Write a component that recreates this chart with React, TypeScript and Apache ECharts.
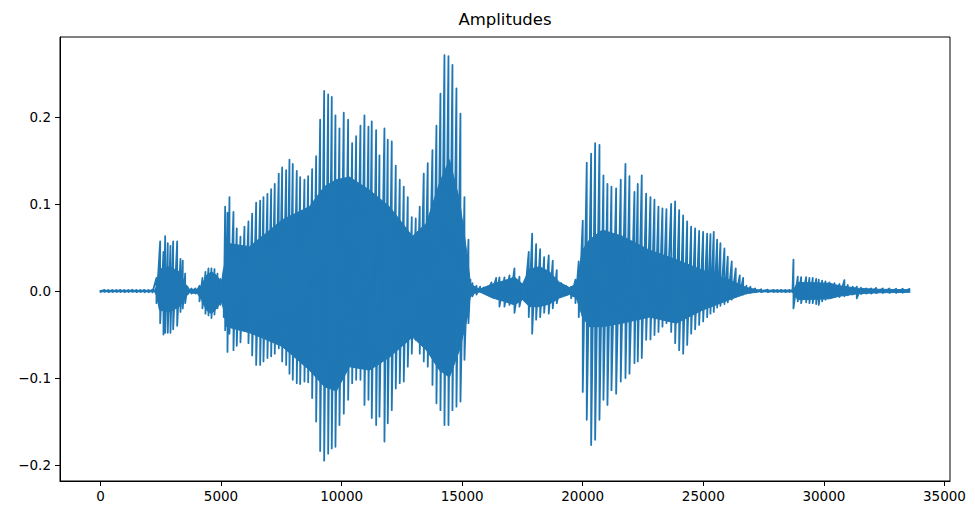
import React, { useEffect, useRef } from "react";
import * as echarts from "echarts";

// Waveform envelope: for each sample position the local maximum and minimum
// amplitude of the signal.
const sampleIdx = [
  0, 166, 332, 498, 664, 829, 995, 1161, 1327, 1493, 1659, 1825, 1991, 2156,
  2322, 2476, 2613, 2683, 2791, 2903, 3015, 3181, 3318, 3413, 3513, 3608, 3774, 3940,
  4106, 4230, 4354, 4479, 4603, 4728, 4852, 4976,
  5113, 5171, 5267,
  5350, 5516, 5652, 5806, 5972, 6138, 6291, 6457, 6623, 6760, 6925, 7079, 7228, 7394,
  7535, 7701, 7838, 7975, 8141, 8282, 8460, 8613, 8779, 8945, 9111, 9277, 9443, 9592,
  9745, 9911, 10090, 10272, 10438, 10604, 10782,
  10948, 11114, 11251, 11433, 11570, 11777, 11914, 12080, 12246, 12412, 12578, 12744,
  12910, 13075, 13241, 13407, 13573, 13768, 13934, 14100, 14266, 14432, 14597, 14763,
  14929, 15095, 15261, 15344,
  15427, 15593, 15746, 15895, 16061, 16215, 16410,
  16547, 16754, 16961, 17169, 17376, 17583, 17762, 17903, 18068, 18234, 18400, 18591,
  18757, 18923, 19105, 19313, 19520, 19698, 19835, 20001, 20167, 20349, 20515, 20694,
  20859, 21025, 21191, 21386, 21577, 21772, 21938,
  22145, 22282, 22448, 22630, 22809, 22975, 23140, 23306, 23472, 23667, 23833, 23999,
  24165, 24331, 24496, 24662, 24828, 24994, 25160, 25297, 25434, 25574, 25711, 25877,
  26014, 26180, 26346, 26512, 26653, 26790, 26956, 27150, 27399, 27673, 27922,
  28075, 28241, 28407, 28572, 28698, 28739,
  28917, 29058, 29265, 29402, 29539, 29681, 29788, 29929, 30066, 30232, 30439, 30646,
  30853, 30991, 31198, 31364, 31546, 31754, 31961, 32169, 32442, 32720, 32998, 33272,
  33549,
];

const upper = [
  0.0012, 0.0013, 0.0011, 0.0012, 0.0012, 0.0013, 0.0011, 0.0012, 0.0014, 0.0012, 0.0011, 0.0013, 0.0012, 0.0015,
  0.015, 0.057, 0.045, 0.063, 0.055, 0.052, 0.057, 0.057, 0.037, 0.035, 0.02, 0.005, 0.003, 0.003,
  0.006, 0.015, 0.022, 0.026, 0.026, 0.025, 0.02, 0.014,
  0.025, 0.097, 0.09,
  0.108, 0.091, 0.072, 0.0625, 0.074, 0.08, 0.089, 0.1015, 0.104, 0.108, 0.1115, 0.117, 0.123, 0.135,
  0.142, 0.139, 0.151, 0.146, 0.138, 0.131, 0.128, 0.132, 0.14, 0.155, 0.197, 0.23, 0.226, 0.223,
  0.202, 0.187, 0.205, 0.197, 0.17, 0.178, 0.19,
  0.202, 0.189, 0.195, 0.185, 0.156, 0.187, 0.174, 0.172, 0.144, 0.128, 0.12, 0.108,
  0.085, 0.0835, 0.097, 0.135, 0.147, 0.162, 0.19, 0.227, 0.271, 0.27, 0.26, 0.233,
  0.204, 0.108, 0.059, 0.013,
  0.009, 0.006, 0.005, 0.004, 0.005, 0.01, 0.015,
  0.0157, 0.0157, 0.018, 0.026, 0.0165, 0.009, 0.045, 0.066, 0.054, 0.048, 0.039, 0.041,
  0.035, 0.024, 0.009, 0.006, 0.005, 0.013, 0.034, 0.081, 0.1475, 0.158, 0.17, 0.168,
  0.133, 0.123, 0.12, 0.118, 0.128, 0.146, 0.132,
  0.114, 0.123, 0.133, 0.112, 0.108, 0.105, 0.097, 0.095, 0.094, 0.1, 0.103, 0.093,
  0.087, 0.08, 0.074, 0.072, 0.069, 0.068, 0.066, 0.0655, 0.068, 0.059, 0.055, 0.049,
  0.0395, 0.034, 0.026, 0.018, 0.015, 0.006, 0.005, 0.003, 0.002, 0.0015, 0.0013,
  0.0012, 0.0013, 0.0012, 0.0012, 0.0013, 0.036,
  0.0165, 0.016, 0.016, 0.015, 0.015, 0.014, 0.013, 0.012, 0.011, 0.01, 0.009, 0.008,
  0.0126, 0.007, 0.005, 0.005, 0.0038, 0.003, 0.003, 0.0035, 0.003, 0.003, 0.0027, 0.0027,
  0.0025,
];

const lower = [
  -0.0012, -0.0011, -0.0013, -0.0012, -0.0011, -0.0012, -0.0013, -0.0012, -0.0011, -0.0013, -0.0012, -0.0014, -0.0015, -0.0016,
  -0.014, -0.037, -0.05, -0.048, -0.048, -0.048, -0.044, -0.04, -0.024, -0.02, -0.014, -0.004, -0.003, -0.003,
  -0.012, -0.02, -0.026, -0.028, -0.031, -0.027, -0.02, -0.016,
  -0.03, -0.045, -0.07,
  -0.049, -0.068, -0.063, -0.059, -0.043, -0.06, -0.074, -0.085, -0.085, -0.081, -0.077, -0.075, -0.072, -0.066,
  -0.081, -0.085, -0.095, -0.102, -0.106, -0.107, -0.104, -0.105, -0.123, -0.15, -0.184, -0.195, -0.187, -0.181,
  -0.179, -0.154, -0.141, -0.125, -0.106, -0.102, -0.102,
  -0.131, -0.125, -0.146, -0.154, -0.1445, -0.173, -0.152, -0.137, -0.112, -0.106, -0.104, -0.087,
  -0.072, -0.056, -0.072, -0.081, -0.087, -0.108, -0.129, -0.137, -0.154, -0.154, -0.137, -0.133,
  -0.127, -0.079, -0.037, -0.0065,
  -0.006, -0.004, -0.001, -0.001, -0.001, -0.004, -0.006,
  -0.018, -0.018, -0.016, -0.025, -0.018, -0.01, -0.03, -0.049, -0.033, -0.03, -0.025, -0.026,
  -0.02, -0.014, -0.0065, -0.0046, -0.0084, -0.014, -0.03, -0.116, -0.148, -0.177, -0.171, -0.148,
  -0.125, -0.131, -0.114, -0.118, -0.104, -0.1, -0.095,
  -0.083, -0.081, -0.077, -0.056, -0.0556, -0.0506, -0.047, -0.041, -0.037, -0.047, -0.06, -0.068,
  -0.072, -0.062, -0.049, -0.044, -0.039, -0.035, -0.03, -0.026, -0.024, -0.019, -0.017, -0.015,
  -0.013, -0.01, -0.007, -0.005, -0.004, -0.003, -0.002, -0.0015, -0.0013, -0.0012, -0.0012,
  -0.0012, -0.0011, -0.0013, -0.0012, -0.0012, -0.02,
  -0.012, -0.014, -0.013, -0.014, -0.014, -0.015, -0.016, -0.012, -0.01, -0.008, -0.007, -0.007,
  -0.006, -0.005, -0.004, -0.0084, -0.0035, -0.003, -0.003, -0.0025, -0.0022, -0.0022, -0.0022, -0.002,
  -0.002,
];

// Dense body of the waveform: the band that the oscillation fills solidly.
const coreIdx = [
  0, 2239, 2322, 2447, 2861, 3276, 3525, 3691, 4023, 4189, 4396, 4603, 4811, 5018,
  5142, 5225, 6179, 6801, 7548, 8667, 9289, 9787, 10326, 11155, 11985, 12939, 13519,
  14058, 14473, 14888, 15219, 15344, 15718,
  16256, 16754, 17169, 17501, 17791, 18206, 18620, 19035, 19449, 19740, 19989, 20279,
  20818, 21647, 22767, 23887, 24965, 26085, 26790, 27329,
  28739, 28905, 30232, 30646, 31475, 32305, 33549,
];

const coreUpper = [
  0.0008, 0.0008, 0.005, 0.025, 0.028, 0.022, 0.008, 0.002, 0.002, 0.006, 0.018, 0.022, 0.018, 0.01,
  0.03, 0.055, 0.051, 0.065, 0.082, 0.097, 0.12, 0.128, 0.131, 0.116, 0.097, 0.063, 0.078,
  0.124, 0.151, 0.105, 0.039, 0.008, 0.002,
  0.008, 0.012, 0.016, 0.008, 0.025, 0.028, 0.022, 0.01, 0.004, 0.008, 0.047, 0.059,
  0.07, 0.063, 0.047, 0.036, 0.024, 0.0126, 0.004, 0.001,
  0.001, 0.01, 0.009, 0.006, 0.003, 0.002, 0.0015,
];

const coreLower = [
  -0.0008, -0.0008, -0.005, -0.022, -0.024, -0.018, -0.006, -0.002, -0.003, -0.01, -0.022, -0.026, -0.02, -0.012,
  -0.025, -0.041, -0.048, -0.055, -0.064, -0.091, -0.11, -0.115, -0.087, -0.091, -0.076, -0.053, -0.068,
  -0.091, -0.099, -0.068, -0.03, -0.004, -0.001,
  -0.008, -0.012, -0.016, -0.01, -0.018, -0.018, -0.015, -0.008, -0.004, -0.008, -0.03, -0.041,
  -0.041, -0.037, -0.03, -0.037, -0.022, -0.01, -0.003, -0.001,
  -0.001, -0.01, -0.009, -0.006, -0.003, -0.002, -0.0015,
];

const xTicks = [0, 5000, 10000, 15000, 20000, 25000, 30000, 35000];
const yTicks = [-0.2, -0.1, 0, 0.1, 0.2];

const FONT = "DejaVu Sans";
const BLUE = "#1f77b4";

export default function App() {
  const ref = useRef<HTMLDivElement>(null);

  useEffect(() => {
    if (!ref.current) return;
    const chart = echarts.init(ref.current, null, { renderer: "svg" });

    // Trace each envelope column top-to-bottom so the line sweeps like a dense waveform.
    const trace: [number, number][] = [];
    sampleIdx.forEach((s, i) => {
      trace.push([s, upper[i]]);
      trace.push([s, lower[i]]);
    });

    const coreTop = coreIdx.map((s, i) => [s, coreUpper[i]]);
    const coreBottom = coreIdx.map((s, i) => [s, coreLower[i]]);

    // Both halves of the body are filled towards the zero line.
    const bodySeries = (data: number[][]) => ({
      type: "line",
      data,
      showSymbol: false,
      symbol: "none",
      clip: true,
      silent: true,
      lineStyle: { color: BLUE, width: 1 },
      areaStyle: { color: BLUE, opacity: 1, origin: 0 },
    });

    chart.setOption({
      animation: false,
      backgroundColor: "#ffffff",
      graphic: [
        {
          type: "text",
          x: 505,
          y: 19.5,
          style: {
            text: "Amplitudes",
            fill: "#000",
            font: `16.5px "${FONT}"`,
            textAlign: "center",
            textVerticalAlign: "middle",
          },
        },
      ],
      grid: {
        left: 60,
        right: 25,
        top: 37,
        bottom: 27,
        show: true,
        borderColor: "#000",
        borderWidth: 1,
        backgroundColor: "transparent",
      },
      xAxis: {
        type: "value",
        min: -1678,
        max: 35231,
        axisLine: { show: true, onZero: false, lineStyle: { color: "#000", width: 1 } },
        axisTick: { show: true, customValues: xTicks, length: 5, lineStyle: { color: "#000", width: 1 } },
        axisLabel: {
          customValues: xTicks,
          margin: 8,
          color: "#000",
          fontFamily: FONT,
          fontSize: 13.5,
          formatter: (v: number) => String(v),
        },
        splitLine: { show: false },
      },
      yAxis: {
        type: "value",
        min: -0.2184,
        max: 0.292,
        axisLine: { show: true, onZero: false, lineStyle: { color: "#000", width: 1 } },
        axisTick: { show: true, customValues: yTicks, length: 5, lineStyle: { color: "#000", width: 1 } },
        axisLabel: {
          customValues: yTicks,
          margin: 9,
          color: "#000",
          fontFamily: FONT,
          fontSize: 13.5,
          formatter: (v: number) => v.toFixed(1).replace("-", "\u2212"),
        },
        splitLine: { show: false },
      },
      series: [
        bodySeries(coreTop),
        bodySeries(coreBottom),
        {
          type: "line",
          data: trace,
          showSymbol: false,
          symbol: "none",
          clip: true,
          lineStyle: { color: BLUE, width: 1.8, join: "round" },
        },
      ],
    });

    return () => chart.dispose();
  }, []);

  return (
    <div
      ref={ref}
      style={{ position: "absolute", left: 0, top: 0, width: 975, height: 508 }}
    />
  );
}
